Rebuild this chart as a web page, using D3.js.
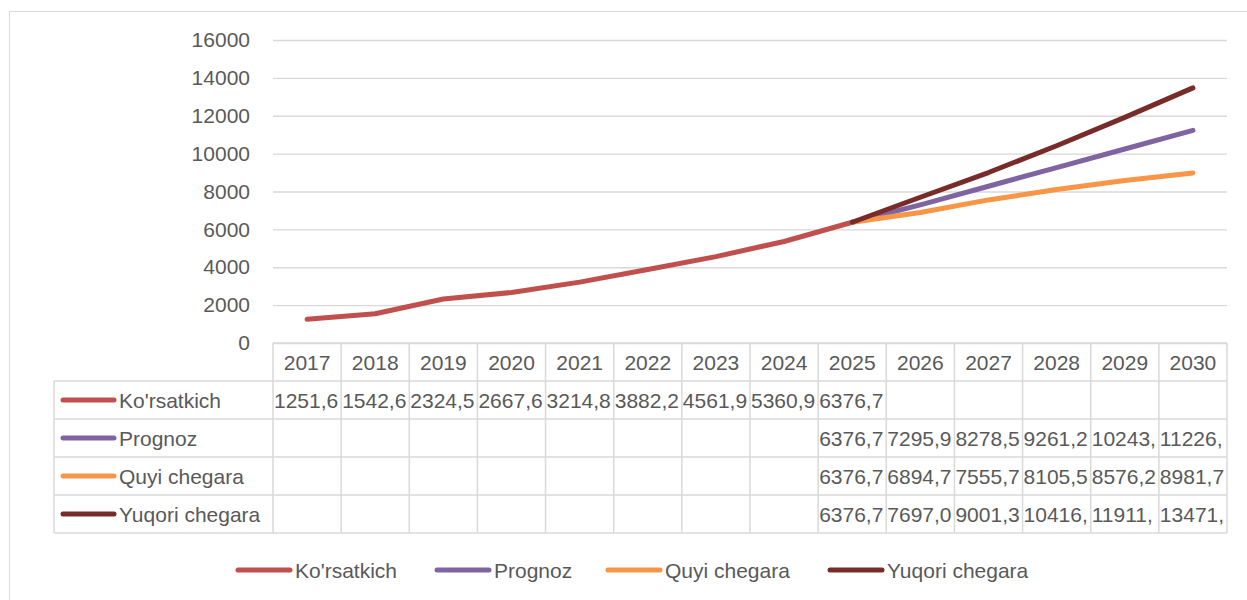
<!DOCTYPE html>
<html>
<head>
<meta charset="utf-8">
<script src="https://cdn.jsdelivr.net/npm/d3@7"></script>
<style>
  body { margin: 0; background: #fff; }
  text { font-family: "Liberation Sans", Arial, sans-serif; fill: #595959; }
</style>
</head>
<body>
<script>
const w = 1247,
  h = 600;

const years = [2017, 2018, 2019, 2020, 2021, 2022, 2023, 2024, 2025, 2026, 2027, 2028, 2029, 2030];
const seriesNames = ["Ko'rsatkich", 'Prognoz', 'Quyi chegara', 'Yuqori chegara'];
const colors = ['#C0504D', '#8064A2', '#F79646', '#772C2A'];
const yTicks = [0, 2000, 4000, 6000, 8000, 10000, 12000, 14000, 16000];

// null = empty cell
const korsatkich = [1251.6, 1542.6, 2324.5, 2667.6, 3214.8, 3882.2, 4561.9, 5360.9, 6376.7, null, null, null, null, null];
const prognoz = [null, null, null, null, null, null, null, null, 6376.7, 7295.9, 8278.5, 9261.2, 10243.9, 11226.6];
const quyi = [null, null, null, null, null, null, null, null, 6376.7, 6894.7, 7555.7, 8105.5, 8576.2, 8981.7];
const yuqori = [null, null, null, null, null, null, null, null, 6376.7, 7697.0, 9001.3, 10416.4, 11911.8, 13471.2];

const allSeries = [korsatkich, prognoz, quyi, yuqori];

const plotLeft = 273,
  plotRight = 1227,
  plotTop = 40,
  plotBottom = 343,
  rowH = 38,
  tableLeft = 54;

const svg = d3.select('body').append('svg').attr('width', w).attr('height', h);

// chart frame
svg.append('rect')
  .attr('x', 9.5).attr('y', 11.5)
  .attr('width', w).attr('height', h)
  .attr('fill', 'none').attr('stroke', '#D9D9D9');

const x = d3.scaleBand().domain(years).range([plotLeft, plotRight]);
const y = d3.scaleLinear().domain([0, 16000]).range([plotBottom, plotTop]);

// gridlines + y labels
const yAxis = d3.axisLeft(y).tickValues(yTicks).tickSize(-(plotRight - plotLeft)).tickPadding(23).tickFormat(d3.format('d'));
const gy = svg.append('g').attr('transform', `translate(${plotLeft},0)`).call(yAxis);
gy.select('.domain').remove();
gy.selectAll('.tick line').attr('stroke', '#D9D9D9').attr('stroke-width', 1.3);
gy.selectAll('.tick text').style('font-size', '21px').attr('fill', '#595959');

// lines
const line = d3.line()
  .defined(d => d != null)
  .x((d, i) => x(years[i]) + x.bandwidth() / 2)
  .y(d => y(d));

allSeries.forEach((s, k) => {
  svg.append('path')
    .datum(s)
    .attr('fill', 'none')
    .attr('stroke', colors[k])
    .attr('stroke-width', 5)
    .attr('stroke-linecap', 'round')
    .attr('stroke-linejoin', 'round')
    .attr('d', line);
});

// data table
const table = svg.append('g');
const gridColor = '#D9D9D9';
const tableBottom = plotBottom + rowH * 5;

// horizontal lines
table.append('line')
  .attr('x1', plotLeft).attr('x2', plotRight)
  .attr('y1', plotBottom).attr('y2', plotBottom)
  .attr('stroke', gridColor).attr('stroke-width', 1.5);
for (let r = 1; r <= 5; r++) {
  table.append('line')
    .attr('x1', tableLeft).attr('x2', plotRight)
    .attr('y1', plotBottom + r * rowH).attr('y2', plotBottom + r * rowH)
    .attr('stroke', gridColor).attr('stroke-width', 1.5);
}
// vertical lines
table.append('line')
  .attr('x1', tableLeft).attr('x2', tableLeft)
  .attr('y1', plotBottom + rowH).attr('y2', tableBottom)
  .attr('stroke', gridColor).attr('stroke-width', 1.5);
years.forEach(yr => {
  table.append('line')
    .attr('x1', x(yr)).attr('x2', x(yr))
    .attr('y1', plotBottom).attr('y2', tableBottom)
    .attr('stroke', gridColor).attr('stroke-width', 1.5);
});
table.append('line')
  .attr('x1', plotRight).attr('x2', plotRight)
  .attr('y1', plotBottom).attr('y2', tableBottom)
  .attr('stroke', gridColor).attr('stroke-width', 1.5);

// year header
table.selectAll('.yr')
  .data(years)
  .enter()
  .append('text')
  .attr('x', d => x(d) + x.bandwidth() / 2)
  .attr('y', plotBottom + rowH / 2)
  .attr('dy', '0.36em')
  .attr('text-anchor', 'middle')
  .style('font-size', '21px')
  .text(d => d);

// series rows
allSeries.forEach((s, k) => {
  const cy = plotBottom + rowH * (k + 1) + rowH / 2;
  table.append('line')
    .attr('x1', 63).attr('x2', 114)
    .attr('y1', cy).attr('y2', cy)
    .attr('stroke', colors[k]).attr('stroke-width', 5)
    .attr('stroke-linecap', 'round');
  table.append('text')
    .attr('x', 119).attr('y', cy).attr('dy', '0.36em')
    .style('font-size', '21px')
    .text(seriesNames[k]);
  s.forEach((v, i) => {
    if (v == null) return;
    table.append('text')
      .attr('x', x(years[i]) + 1).attr('y', cy).attr('dy', '0.36em')
      .style('font-size', '21px')
      .text(v.toFixed(1).replace('.', ',').slice(0, 6));
  });
});

// bottom legend
const legendX = [238, 437, 608, 830];
const legend = svg.append('g');
seriesNames.forEach((name, k) => {
  legend.append('line')
    .attr('x1', legendX[k]).attr('x2', legendX[k] + 52)
    .attr('y1', 570).attr('y2', 570)
    .attr('stroke', colors[k]).attr('stroke-width', 5)
    .attr('stroke-linecap', 'round');
  legend.append('text')
    .attr('x', legendX[k] + 57).attr('y', 570).attr('dy', '0.36em')
    .style('font-size', '21px')
    .text(name);
});
</script>
</body>
</html>
